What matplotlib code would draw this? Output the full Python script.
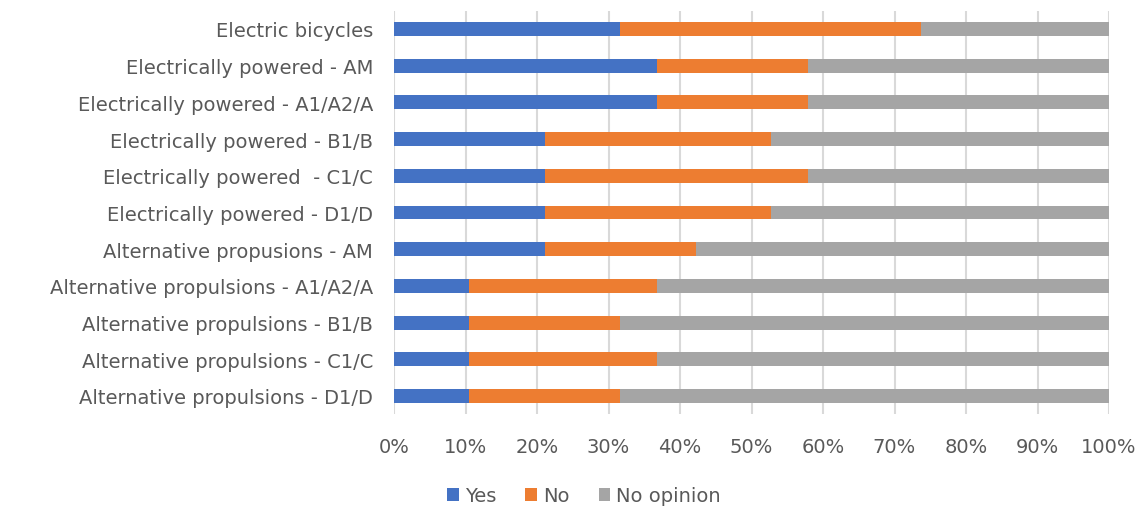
import matplotlib
matplotlib.use("Agg")
import matplotlib.pyplot as plt
import numpy as np

categories = [
    "Electric bicycles",
    "Electrically powered - AM",
    "Electrically powered - A1/A2/A",
    "Electrically powered - B1/B",
    "Electrically powered  - C1/C",
    "Electrically powered - D1/D",
    "Alternative propusions - AM",
    "Alternative propulsions - A1/A2/A",
    "Alternative propulsions - B1/B",
    "Alternative propulsions - C1/C",
    "Alternative propulsions - D1/D",
]
yes = [31.6, 36.8, 36.8, 21.1, 21.1, 21.1, 21.1, 10.5, 10.5, 10.5, 10.5]
no = [42.1, 21.1, 21.1, 31.6, 36.8, 31.6, 21.1, 26.3, 21.1, 26.3, 21.1]
no_opinion = [26.3, 42.1, 42.1, 47.3, 42.1, 47.3, 57.8, 63.2, 68.4, 63.2, 68.4]
series_names = ["Yes", "No", "No opinion"]
colors = ["#4472C4", "#ED7D31", "#A5A5A5"]
xticks = np.arange(0, 101, 10)

plt.rcParams["font.family"] = ["DejaVu Sans"]
text_color = "#595959"
fs = 14

fig = plt.figure(figsize=(11.45, 5.10), dpi=100)
ax = fig.add_axes([394 / 1145, 1 - 415.35 / 510, 715 / 1145, (415.35 - 11.65) / 510])

y = np.arange(len(categories))
left = np.zeros(len(categories))
for name, vals, c in zip(series_names, [yes, no, no_opinion], colors):
    vals = np.array(vals)
    ax.barh(y, vals, left=left, height=0.38, color=c, label=name, zorder=3)
    left += vals

ax.set_ylim(len(categories) - 0.5, -0.5)
ax.set_xlim(0, 100)
ax.set_yticks(y)
ax.set_yticklabels(categories, fontsize=fs, color=text_color)
ax.set_xticks(xticks)
ax.set_xticklabels([f"{v}%" for v in xticks], fontsize=fs, color=text_color)
ax.tick_params(axis="both", length=0)
ax.tick_params(axis="y", pad=15)
ax.tick_params(axis="x", pad=16)
ax.grid(axis="x", color="#D9D9D9", linewidth=1.5, zorder=0)
for s in ax.spines.values():
    s.set_visible(False)

fig.legend(loc="center", bbox_to_anchor=(584 / 1145, 1 - 497 / 510), ncol=3, frameon=False,
           fontsize=fs, labelcolor=text_color, handlelength=0.6, handleheight=0.6,
           handletextpad=0.3, columnspacing=1.5)

fig.savefig("out.png", dpi=100)
